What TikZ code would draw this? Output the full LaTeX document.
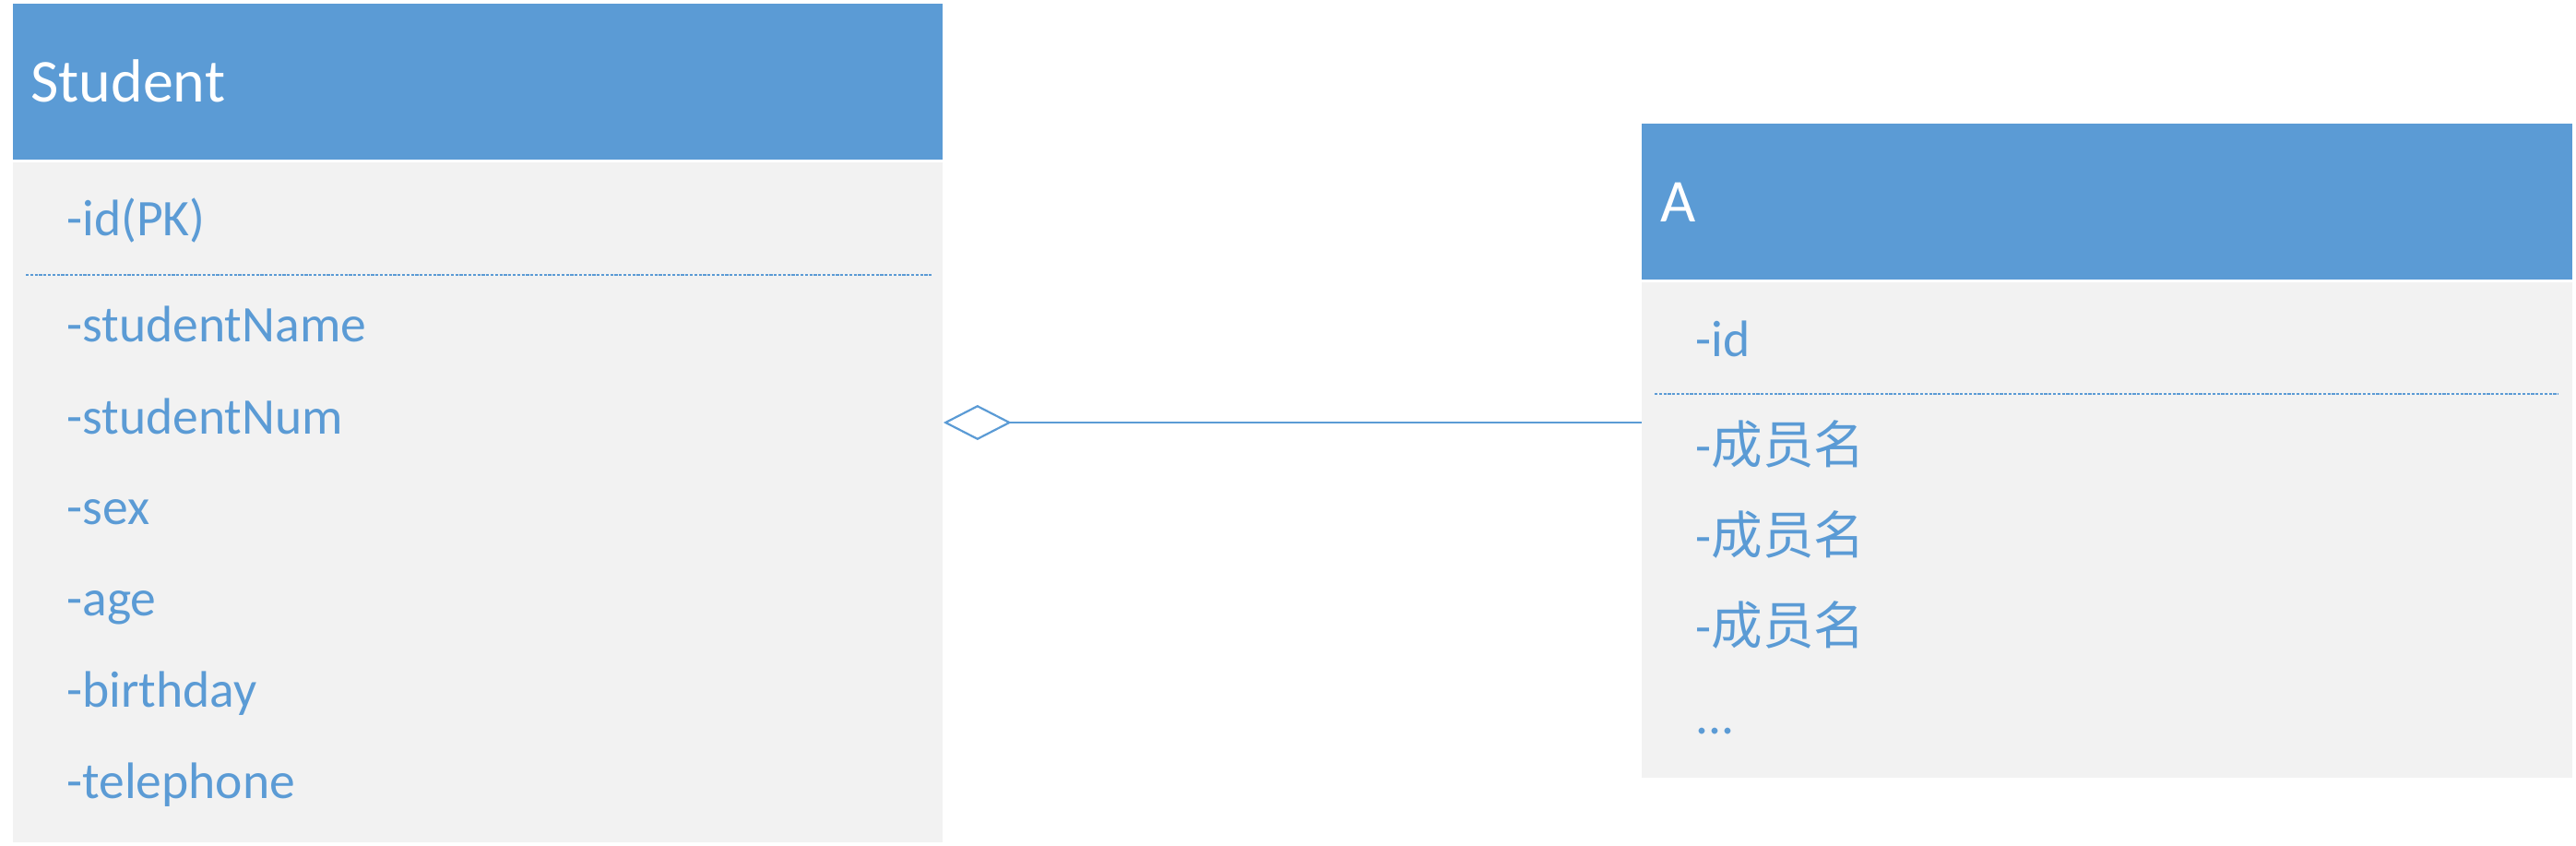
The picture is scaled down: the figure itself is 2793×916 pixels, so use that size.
\documentclass[tikz,border=0pt]{standalone}
\usepackage{fontspec}
\setmainfont{Carlito}
\newfontfamily\cjk{Noto Sans CJK SC}
\usepackage{xcolor}
\usetikzlibrary{arrows.meta,positioning}

\definecolor{umlblue}{HTML}{5B9BD5}
\definecolor{umlgray}{HTML}{F2F2F2}

\begin{document}
\begin{tikzpicture}[
      x=0.5pt, y=-0.5pt,
      head/.style={fill=umlblue, inner sep=0pt, anchor=north west},
      body/.style={fill=umlgray, inner sep=0pt, anchor=north west},
      title/.style={anchor=base west, inner sep=0pt, text=white,
                    font=\fontsize{33pt}{36pt}\selectfont},
      attr/.style={anchor=base west, inner sep=0pt, text=umlblue,
                   font=\fontsize{27.8pt}{31pt}\selectfont},
      sep/.style={umlblue, line width=1.1pt, dash pattern=on 1.6pt off 0.8pt},
      aggr/.style={{Diamond[open, length=37pt, width=19pt]}-, umlblue, line width=1.1pt},
    ]
    \useasboundingbox (0,0) rectangle (2793,916);

    % Student class
    \node[head, minimum width=504pt, minimum height=84.5pt] (shead) at (14,4) {};
    \node[body, minimum width=504pt, minimum height=368.5pt] (sbody) at ([yshift=-1pt]shead.south west) {};
    \node[title] (stitle) at (33,110) {Student};
    \node[attr] (sid)   at (72,255) {-id(PK)};
    \draw[sep] ([shift={(7pt,-61pt)}]sbody.north west) -- ([shift={(-6.5pt,-61pt)}]sbody.north east);
    \node[attr] (sname) at (72,370) {-studentName};
    \node[attr] (snum)  at (72,470) {-studentNum};
    \node[attr] (ssex)  at (72,568) {-sex};
    \node[attr] (sage)  at (72,667) {-age};
    \node[attr] (sbday) at (72,766) {-birthday};
    \node[attr] (stel)  at (72,865) {-telephone};

    % class A
    \node[head, minimum width=504.5pt, minimum height=84.5pt] (ahead) at (1780,134) {};
    \node[body, minimum width=504.5pt, minimum height=268.5pt] (abody) at ([yshift=-1pt]ahead.south west) {};
    \node[title] (atitle) at (1800,240) {A};
    \node[attr] (aid) at (1838,386) {-id};
    \draw[sep] ([shift={(7pt,-60.5pt)}]abody.north west) -- ([shift={(-8pt,-60.5pt)}]abody.north east);
    \node[attr] (am1) at (1838,502) {-{\cjk 成员名}};
    \node[attr] (am2) at (1838,600) {-{\cjk 成员名}};
    \node[attr] (am3) at (1838,698) {-{\cjk 成员名}};
    \node[attr] (amore) at (1838,795) {...};

    % aggregation
    \coordinate (link) at (0,458);
    \draw[aggr] (sbody.east |- link) -- (abody.west |- link);
  \end{tikzpicture}
\end{document}
